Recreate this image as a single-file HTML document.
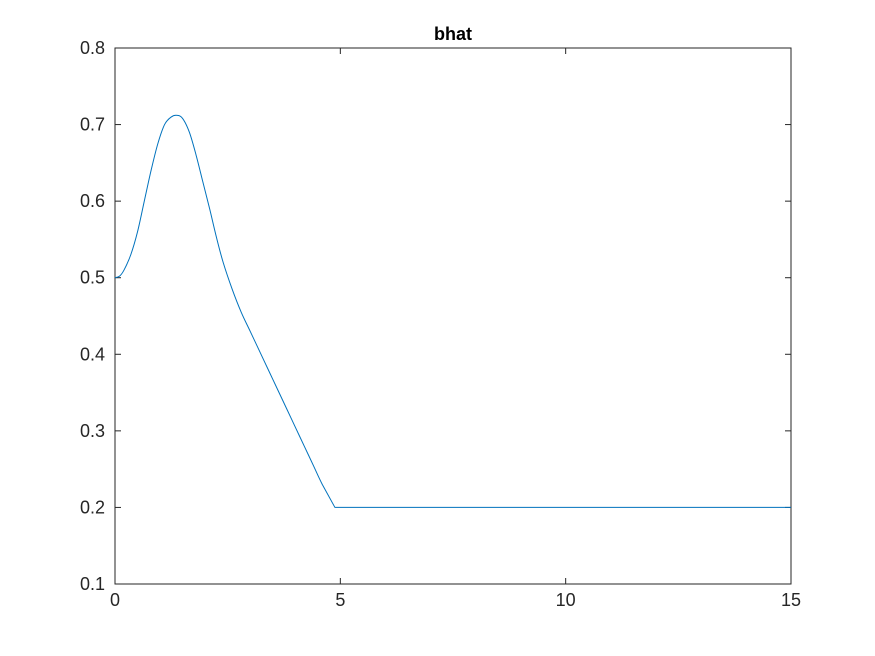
<!DOCTYPE html>
<html><head><meta charset="utf-8">
<style>
html,body{margin:0;padding:0;background:#fff;}
svg{display:block;font-family:"Liberation Sans",Arial,sans-serif;}
</style></head>
<body>
<svg id="chart" width="875" height="656">
  <rect x="0" y="0" width="875" height="656" fill="#fff"/>
  <text x="453" y="40" text-anchor="middle" font-size="18" font-weight="bold" fill="#000">bhat</text>
  <g id="axes"></g>
  <g id="series"></g>
</svg>
<script>
const xTicks=[0,5,10,15];
const yTicks=[0.1,0.2,0.3,0.4,0.5,0.6,0.7,0.8];
const xVals=[0,0.1,0.2,0.35,0.5,0.65,0.8,0.95,1.1,1.25,1.38,1.5,1.65,1.8,1.95,2.1,2.25,2.4,2.6,2.8,3.0,3.2,3.4,3.6,3.8,4.0,4.2,4.4,4.6,4.88,6,8,10,12,15];
const yVals=[0.5,0.502,0.51,0.53,0.56,0.6,0.64,0.675,0.7,0.71,0.712,0.708,0.69,0.66,0.625,0.59,0.553,0.52,0.485,0.455,0.43,0.405,0.38,0.355,0.33,0.305,0.28,0.255,0.23,0.2,0.2,0.2,0.2,0.2,0.2];
const L=115,R=791,T=48,B=584;
const xs=v=>L+(v-0)/(15-0)*(R-L);
const ys=v=>B-(v-0.1)/(0.8-0.1)*(B-T);
const NS='http://www.w3.org/2000/svg';
const ax=document.getElementById('axes');
function mk(tag,attrs,parent){const e=document.createElementNS(NS,tag);for(const k in attrs)e.setAttribute(k,attrs[k]);parent.appendChild(e);return e;}
const box=mk('rect',{x:L,y:T,width:R-L,height:B-T,fill:'none',stroke:'#262626','stroke-width':1},ax);


xTicks.forEach(t=>{
  const x=xs(t);
  const l1=mk('line',{x1:x,y1:B,x2:x,y2:B-6,stroke:'#262626'},ax);
  
  
  const l2=mk('line',{x1:x,y1:T,x2:x,y2:T+6,stroke:'#262626'},ax);
  
  
  const tx=mk('text',{x:x,y:B+22,'text-anchor':'middle','font-size':18,fill:'#262626'},ax);
  tx.textContent=String(t);
  
  
});
yTicks.forEach(t=>{
  const y=ys(t);
  const l1=mk('line',{x1:L,y1:y,x2:L+6,y2:y,stroke:'#262626'},ax);
  
  
  const l2=mk('line',{x1:R,y1:y,x2:R-6,y2:y,stroke:'#262626'},ax);
  
  
  const tx=mk('text',{x:L-10,y:y+6,'text-anchor':'end','font-size':18,fill:'#262626'},ax);
  tx.textContent=t.toFixed(1);
  
  
});
const P=xVals.map((x,i)=>[xs(x),ys(yVals[i])]);
let d='M'+P[0][0].toFixed(2)+','+P[0][1].toFixed(2);
for(let i=0;i<P.length-1;i++){
  const p0=P[Math.max(0,i-1)],p1=P[i],p2=P[i+1],p3=P[Math.min(P.length-1,i+2)];
  if(p1[1]===p2[1]||p2[1]===p3[1]){d+=' L'+p2[0].toFixed(2)+','+p2[1].toFixed(2);continue;}
  const c1x=p1[0]+(p2[0]-p0[0])/6,c1y=p1[1]+(p2[1]-p0[1])/6;
  const c2x=p2[0]-(p3[0]-p1[0])/6,c2y=p2[1]-(p3[1]-p1[1])/6;
  d+=' C'+c1x.toFixed(2)+','+c1y.toFixed(2)+' '+c2x.toFixed(2)+','+c2y.toFixed(2)+' '+p2[0].toFixed(2)+','+p2[1].toFixed(2);
}
const pl=mk('path',{d:d,fill:'none',stroke:'#0072BD','stroke-width':1,'stroke-linejoin':'round'},document.getElementById('series'));


</script>
</body></html>
